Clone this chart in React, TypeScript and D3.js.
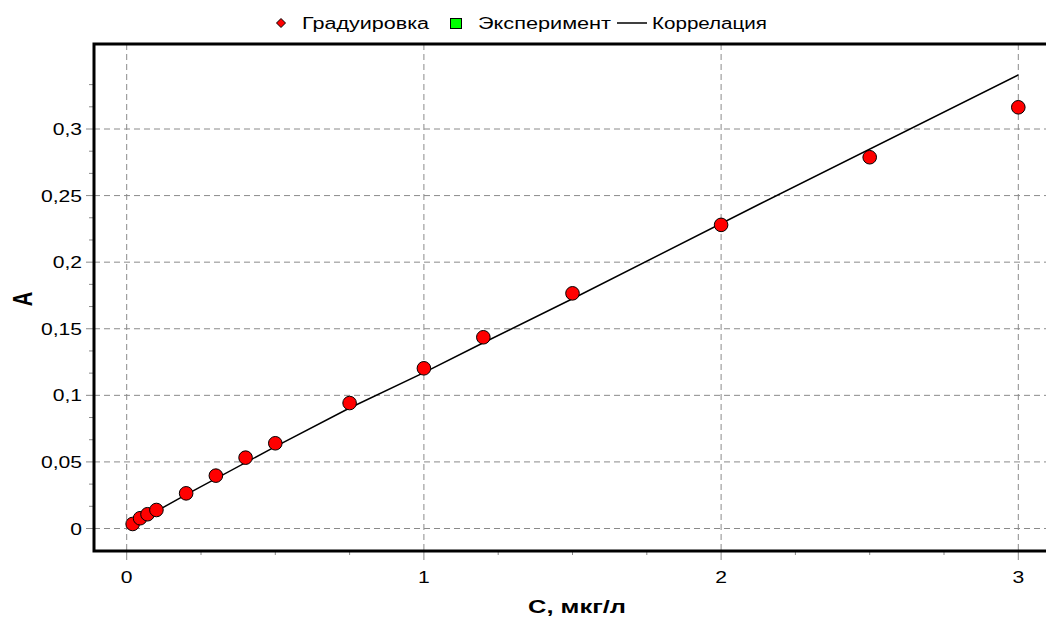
import React from "react";
import * as d3 from "d3";

// ---- data ----
const calX = [0.02, 0.045, 0.07, 0.1, 0.2, 0.3, 0.4, 0.5, 0.75, 1.0, 1.2, 1.5, 2.0, 2.5, 3.0];
const calY = [0.0034, 0.0077, 0.0107, 0.0139, 0.0264, 0.0397, 0.0532, 0.064, 0.0942, 0.1203, 0.1436, 0.1766, 0.228, 0.2788, 0.3163];
const corrX = [0.02, 0.2, 0.5, 0.75, 1.0, 1.2, 1.5, 2.13, 3.0];
const corrY = [0.003, 0.0255, 0.0615, 0.0905, 0.117, 0.1395, 0.1725, 0.2437, 0.3406];
const xTickValues = [0, 1, 2, 3];
const xTickLabels = ["0", "1", "2", "3"];
const yTickValues = [0, 0.05, 0.1, 0.15, 0.2, 0.25, 0.3];
const yTickLabels = ["0", "0,05", "0,1", "0,15", "0,2", "0,25", "0,3"];
const legendLabels = ["Градуировка", "Эксперимент", "Коррелация"];
const xTitle = "С, мкг/л";
const yTitle = "А";

const W = 1046;
const H = 621;
const FRAME = { left: 94, top: 44, bottom: 551, right: 1060 };
const x = d3.scaleLinear().domain([0, 3]).range([126.7, 1018.3]);
const y = d3.scaleLinear().domain([0, 0.3]).range([528.5, 129]);
const GRID = "#8a8a8a";
const FONT = "'Liberation Sans', Arial, sans-serif";
const SX = 1.32;

export default function App() {
  const xMinor = d3.range(0.25, 3.01, 0.25).filter((v) => Math.abs(v - Math.round(v)) > 1e-6);
  const yMinor = d3.range(1, 21).map((i) => (i * 0.05) / 3).filter((v) => Math.abs(v / 0.05 - Math.round(v / 0.05)) > 1e-6);
  const line = d3
    .line<number>()
    .x((_, i) => x(corrX[i]))
    .y((d) => y(d));

  return (
    <svg width={W} height={H} style={{ position: "absolute", left: 0, top: 0, background: "#fff" }} fontFamily={FONT}>
      <rect x={0} y={0} width={W} height={H} fill="#fff" />
      {/* grid */}
      {yTickValues.map((v) => (
        <line key={"gy" + v} x1={FRAME.left} x2={W} y1={y(v)} y2={y(v)} stroke={GRID} strokeDasharray="6,4" />
      ))}
      {xTickValues.map((v) => (
        <line key={"gx" + v} x1={x(v)} x2={x(v)} y1={FRAME.top} y2={FRAME.bottom} stroke={GRID} strokeDasharray="6,4" />
      ))}
      {/* y ticks */}
      {yTickValues.map((v) => (
        <line key={"ty" + v} x1={86} x2={FRAME.left} y1={y(v)} y2={y(v)} stroke={GRID} />
      ))}
      {yMinor.map((v) => (
        <line key={"tym" + v} x1={89} x2={FRAME.left} y1={y(v)} y2={y(v)} stroke={GRID} />
      ))}
      {/* x ticks */}
      {xTickValues.map((v) => (
        <line key={"tx" + v} x1={x(v)} x2={x(v)} y1={FRAME.bottom} y2={FRAME.bottom + 9} stroke={GRID} />
      ))}
      {xMinor.map((v) => (
        <line key={"txm" + v} x1={x(v)} x2={x(v)} y1={FRAME.bottom} y2={FRAME.bottom + 4} stroke={GRID} />
      ))}
      {/* frame */}
      <path
        d={`M${FRAME.right},${FRAME.top} H${FRAME.left} V${FRAME.bottom} H${FRAME.right}`}
        fill="none"
        stroke="#000"
        strokeWidth={3}
      />
      {/* tick labels */}
      {yTickValues.map((v, i) => (
        <text
          key={"ly" + v}
          transform={`translate(82,${y(v) + 6}) scale(${SX},1)`}
          textAnchor="end"
          fontSize={16}
          fill="#000"
        >
          {yTickLabels[i]}
        </text>
      ))}
      {xTickValues.map((v, i) => (
        <text
          key={"lx" + v}
          transform={`translate(${x(v)},${583}) scale(${SX},1)`}
          textAnchor="middle"
          fontSize={16}
          fill="#000"
        >
          {xTickLabels[i]}
        </text>
      ))}
      {/* correlation line */}
      <path d={line(corrY) || ""} fill="none" stroke="#000" strokeWidth={1.5} />
      {/* points */}
      {calY.map((v, i) => (
        <circle key={"p" + i} cx={x(calX[i])} cy={y(v)} r={6.8} fill="#ff0000" stroke="#000" strokeWidth={1} />
      ))}
      {/* axis titles */}
      <text x={528} y={613} fontSize={18} fontWeight="bold" textLength={98} lengthAdjust="spacingAndGlyphs">
        {xTitle}
      </text>
      <text
        transform={`translate(32,299) scale(1.4,1) rotate(-90)`}
        textAnchor="middle"
        fontSize={20}
        fontWeight="bold"
      >
        {yTitle}
      </text>
      {/* legend */}
      <path d="M281,18.5 L285.5,23 L281,27.5 L276.5,23 Z" fill="#ff0000" stroke="#000" strokeWidth={1} />
      <text x={302} y={29} fontSize={16} textLength={127} lengthAdjust="spacingAndGlyphs">
        {legendLabels[0]}
      </text>
      <rect x={450.5} y={18.5} width={11} height={10} fill="#00ff00" stroke="#000" strokeWidth={1} />
      <text x={478} y={29} fontSize={16} textLength={133} lengthAdjust="spacingAndGlyphs">
        {legendLabels[1]}
      </text>
      <line x1={617} x2={647} y1={23} y2={23} stroke="#000" strokeWidth={1.5} />
      <text x={652} y={29} fontSize={16} textLength={115} lengthAdjust="spacingAndGlyphs">
        {legendLabels[2]}
      </text>
    </svg>
  );
}
